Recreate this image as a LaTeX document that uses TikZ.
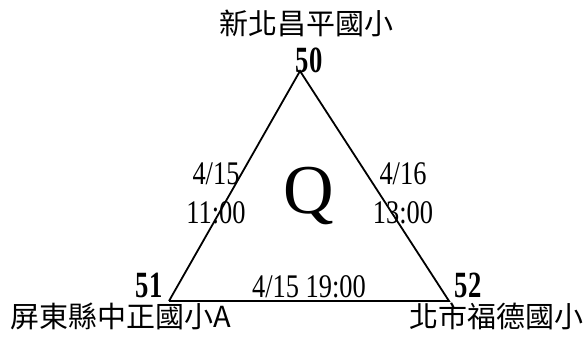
\documentclass[tikz,border=0pt]{standalone}
\usepackage{fontspec}
\setmainfont{Liberation Serif}
\newfontfamily\cjk{Noto Sans CJK TC}
\begin{document}
\begin{tikzpicture}[x=1pt,y=-1pt,
  cjklab/.style={inner sep=0pt,font=\cjk\fontsize{29}{29}\selectfont},
  vnum/.style={inner sep=0pt,font=\bfseries\fontsize{37}{37}\selectfont,xscale=0.72},
  elab/.style={inner sep=0pt,font=\fontsize{33}{33}\selectfont,xscale=0.8,align=center},
  edge/.style={line width=1.8pt}]
\useasboundingbox (0,0) rectangle (588,343);
\coordinate (A) at (300,71);
\coordinate (B) at (169,301);
\coordinate (C) at (449,301);
\draw[edge] (B) -- (A) -- (C) -- (B);
\node[cjklab] (tA) at (306,23) {新北昌平國小};
\node[cjklab] (tB) at (121,316) {屏東縣中正國小A};
\node[cjklab] (tC) at (496,316) {北市福德國小};
\node[vnum] (nA) at (309,60) {50};
\node[vnum] (nB) at (149,285) {51};
\node[vnum] (nC) at (468,285) {52};
\node[elab] (e1) at (216,193) {4/15\\[6pt]11:00};
\node[elab] (e2) at (403,193) {4/16\\[6pt]13:00};
\node[elab] (e3) at (309,287) {4/15 19:00};
\node[inner sep=0pt,font=\fontsize{70}{70}\selectfont] (q) at (309,196) {Q};
\end{tikzpicture}
\end{document}
